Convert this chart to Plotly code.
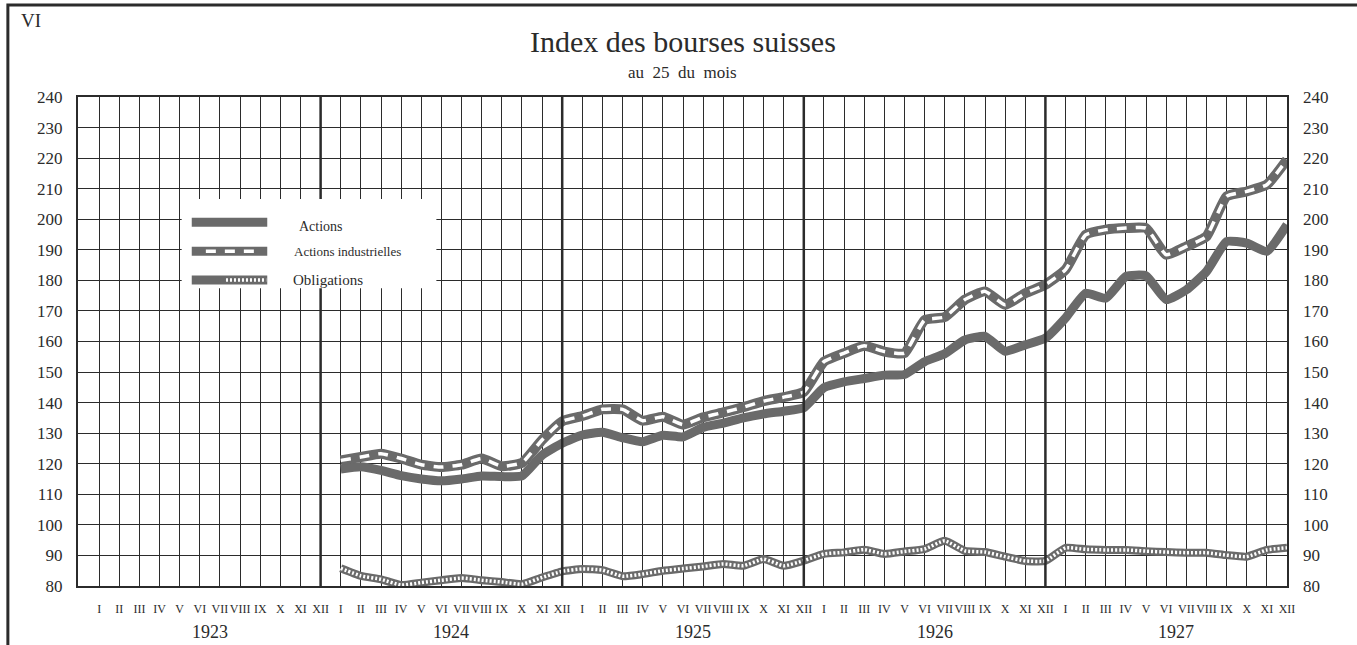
import plotly.graph_objects as go

# ---------------- data ----------------
years = [1923, 1924, 1925, 1926, 1927]
month_labels = ["I", "II", "III", "IV", "V", "VI", "VII", "VIII", "IX", "X", "XI", "XII"]
data_years = [1924, 1925, 1926, 1927]

actions = [
    118.3, 119.0, 117.8, 116.1, 115.0, 114.4, 115.0, 116.0, 115.8, 116.0, 122.8, 126.7,
    129.4, 130.3, 128.5, 127.2, 129.3, 128.8, 131.9, 133.3, 135.0, 136.3, 137.2, 138.3,
    144.9, 146.8, 147.9, 149.0, 149.2, 153.4, 156.0, 160.5, 161.7, 156.8, 158.9, 161.1,
    167.7, 175.8, 174.2, 181.3, 181.5, 173.7, 176.9, 182.9, 192.7, 192.2, 189.5, 198.2,
]
actions_ind = [
    121.1, 122.2, 123.3, 121.7, 119.7, 118.9, 119.7, 121.7, 119.2, 120.3, 127.8, 133.9,
    135.6, 137.8, 137.8, 134.1, 135.4, 132.8, 135.2, 136.8, 138.5, 140.5, 141.8, 143.5,
    153.4, 156.2, 158.6, 156.7, 156.2, 167.0, 168.0, 173.7, 176.4, 172.0, 175.8, 178.6,
    183.5, 194.9, 196.6, 197.1, 197.1, 188.4, 191.1, 194.4, 207.5, 209.1, 211.3, 219.5,
]
obligations = [
    85.8, 83.3, 82.2, 80.3, 81.1, 81.9, 82.6, 81.9, 81.3, 80.6, 82.8, 84.8,
    85.6, 85.2, 83.2, 83.9, 85.0, 85.7, 86.4, 87.2, 86.6, 88.8, 86.6, 88.3,
    90.5, 91.0, 91.9, 90.5, 91.3, 92.1, 94.8, 91.5, 91.1, 89.6, 88.2, 88.2,
    92.5, 92.0, 91.8, 91.8, 91.4, 91.1, 90.9, 90.9, 90.1, 89.6, 91.8, 92.5,
]
y_ticks = list(range(80, 241, 10))

# month positions (0 = janvier 1923)
all_vals = [(y - years[0]) * 12 + m for y in years for m in range(12)]
all_text = [month_labels[m] for y in years for m in range(12)]
x = [(y - years[0]) * 12 + m for y in data_years for m in range(12)]

GRAY = "#6a6a6a"
INK = "#2b2b2b"
SERIF = "Liberation Serif, DejaVu Serif, serif"
SPL = dict(shape="spline", smoothing=0.45)

fig = go.Figure()

# Obligations (hatched band)
fig.add_trace(go.Scatter(x=x, y=obligations, mode="lines", showlegend=False,
                         line=dict(color=GRAY, width=8, **SPL), hoverinfo="skip"))
fig.add_trace(go.Scatter(x=x, y=obligations, mode="lines", name="Obligations", showlegend=False,
                         line=dict(color="white", width=3.5, dash="2px,2px", **SPL)))
# Actions (solid band)
fig.add_trace(go.Scatter(x=x, y=actions, mode="lines", name="Actions", showlegend=False,
                         line=dict(color=GRAY, width=9, **SPL)))
# Actions industrielles (band with white dashes)
fig.add_trace(go.Scatter(x=x, y=actions_ind, mode="lines", showlegend=False,
                         line=dict(color=GRAY, width=10, **SPL), hoverinfo="skip"))
fig.add_trace(go.Scatter(x=x, y=actions_ind, mode="lines", name="Actions industrielles", showlegend=False,
                         line=dict(color="white", width=3.5, dash="10px,9px", **SPL)))
# invisible trace for right axis
fig.add_trace(go.Scatter(x=[x[0]], y=[y_ticks[0]], yaxis="y2", mode="markers",
                         marker=dict(opacity=0), showlegend=False, hoverinfo="skip"))

shapes = []
# thick year-end verticals
for i in range(len(years) - 1):
    xv = i * 12 + 11
    shapes.append(dict(type="line", xref="x", yref="paper", x0=xv, x1=xv, y0=0, y1=1,
                       line=dict(color=INK, width=2.5), layer="above"))
# legend box (white, hides grid)
shapes.append(dict(type="rect", xref="x", yref="y", x0=4.1, x1=16.75, y0=177.4, y1=206.6,
                   fillcolor="white", line=dict(width=0), layer="above"))
leg_y = [199.0, 189.5, 180.1]
leg_txt_y = [197.6, 189.5, 180.1]
names = ["Actions", "Actions industrielles", "Obligations"]
for j, ly in enumerate(leg_y):
    shapes.append(dict(type="line", xref="x", yref="y", x0=4.6, x1=8.35, y0=ly, y1=ly,
                       line=dict(color=GRAY, width=9), layer="above"))
shapes.append(dict(type="line", xref="x", yref="y", x0=5.3, x1=7.9, y0=leg_y[1], y1=leg_y[1],
                   line=dict(color="white", width=3.5, dash="10px,9px"), layer="above"))
shapes.append(dict(type="line", xref="x", yref="y", x0=6.3, x1=8.3, y0=leg_y[2], y1=leg_y[2],
                   line=dict(color="white", width=3.5, dash="2px,2px"), layer="above"))
# outer frame of the page (top and left edges visible)
shapes.append(dict(type="rect", xref="paper", yref="paper", x0=-0.058, x1=1.2, y0=-0.3, y1=1.188,
                   line=dict(color=INK, width=3), layer="above"))

annotations = []
for j, nm in enumerate(names):
    annotations.append(dict(x=[9.85, 9.6, 9.55][j], y=leg_txt_y[j], xref="x", yref="y", text=nm,
                            showarrow=False, xanchor="left", yanchor="middle",
                            font=dict(family=SERIF, size=[14, 13, 15][j], color=INK)))
for i, yr in enumerate(years):
    annotations.append(dict(x=i * 12 + 5.5, y=-0.094, xref="x", yref="paper", text=str(yr),
                            showarrow=False, yanchor="middle",
                            font=dict(family=SERIF, size=18, color=INK)))
annotations.append(dict(x=0.5, y=1.1125, xref="paper", yref="paper", text="Index des bourses suisses",
                        showarrow=False, yanchor="middle", font=dict(family=SERIF, size=30, color=INK)))
annotations.append(dict(x=0.5, y=1.051, xref="paper", yref="paper", text="au  25  du  mois",
                        showarrow=False, yanchor="middle", font=dict(family=SERIF, size=17, color=INK)))
annotations.append(dict(x=-0.049, y=1.157, xref="paper", yref="paper", text="VI", xanchor="left",
                        showarrow=False, yanchor="middle", font=dict(family=SERIF, size=19, color=INK)))

fig.update_layout(
    width=1357, height=645,
    margin=dict(l=78, r=70, t=97, b=59),
    paper_bgcolor="white", plot_bgcolor="white",
    showlegend=False,
    shapes=shapes, annotations=annotations,
    xaxis=dict(range=[-1.05, 59], tickmode="array", tickvals=all_vals, ticktext=all_text,
               showgrid=True, gridcolor=INK, gridwidth=1, zeroline=False,
               showline=True, linecolor=INK, linewidth=2, mirror=True,
               ticks="", ticklabelstandoff=11, tickangle=0,
               tickfont=dict(family=SERIF, size=12, color=INK)),
    yaxis=dict(range=[80, 240], tickmode="array", tickvals=y_ticks,
               showgrid=True, gridcolor=INK, gridwidth=1, zeroline=False,
               showline=True, linecolor=INK, linewidth=2, mirror=True,
               ticks="", ticklabelstandoff=10,
               tickfont=dict(family=SERIF, size=17, color=INK)),
    yaxis2=dict(range=[80, 240], tickmode="array", tickvals=y_ticks, overlaying="y", side="right",
                showgrid=False, zeroline=False, ticks="", ticklabelstandoff=15,
                tickfont=dict(family=SERIF, size=17, color=INK)),
)

fig.write_html("out.html", config={"displayModeBar": False},
               post_script="document.body.style.margin='0';document.body.style.overflow='hidden';")
